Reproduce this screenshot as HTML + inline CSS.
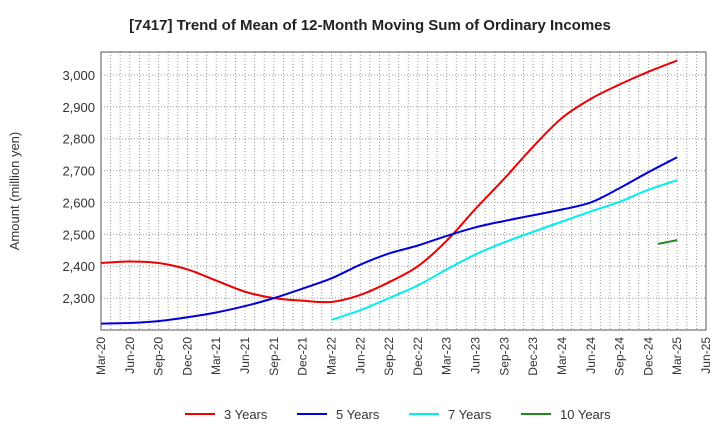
<!DOCTYPE html>
<html><head><meta charset="utf-8"><style>
body{margin:0;background:#fff;font-family:"Liberation Sans",sans-serif}
svg text{font-family:"Liberation Sans",sans-serif}
</style></head><body>
<svg id="c" width="720" height="440" xmlns="http://www.w3.org/2000/svg">
<text x="370" y="30" text-anchor="middle" font-size="15" font-weight="bold" fill="#222">[7417]  Trend of Mean of 12-Month Moving Sum of Ordinary Incomes</text>
<text transform="translate(19,191) rotate(-90)" text-anchor="middle" font-size="13" fill="#333">Amount (million yen)</text>
<g id="grid"></g><g id="series"></g><g id="axes"></g>
<g id="legend"></g>
</svg>
<script>
const xLabels=["Mar-20","Jun-20","Sep-20","Dec-20","Mar-21","Jun-21","Sep-21","Dec-21","Mar-22","Jun-22","Sep-22","Dec-22","Mar-23","Jun-23","Sep-23","Dec-23","Mar-24","Jun-24","Sep-24","Dec-24","Mar-25","Jun-25"];
const yTicks=[2300,2400,2500,2600,2700,2800,2900,3000];
const s3=[2410,2415,2410,2390,2355,2320,2300,2292,2288,2310,2350,2400,2480,2580,2675,2775,2865,2925,2970,3010,3045];
const s5=[2220,2222,2228,2240,2255,2275,2300,2330,2362,2405,2440,2465,2495,2522,2542,2560,2578,2600,2645,2695,2742];
const s7=[2232,2262,2300,2340,2390,2437,2475,2508,2540,2572,2602,2640,2670];
const s7Start=8;
const s10=[2470,2476,2482];
const s10StartMonth=58;
const L=101,R=706,T=52,B=330,YMIN=2200,YMAX=3072;
const xm=m=>L+m*(R-L)/63;
const y=v=>B-(v-YMIN)*(B-T)/(YMAX-YMIN);
const NS="http://www.w3.org/2000/svg";
function mk(t,a,p){const e=document.createElementNS(NS,t);for(const k in a)e.setAttribute(k,a[k]);p.appendChild(e);return e;}
const grid=document.getElementById('grid'),axes=document.getElementById('axes'),ser=document.getElementById('series'),leg=document.getElementById('legend');
for(let m=1;m<63;m++){const l=mk('line',{x1:xm(m),x2:xm(m),y1:T,y2:B,stroke:'#999','stroke-dasharray':'1,2','stroke-width':1},grid);

}
yTicks.forEach(v=>{const l=mk('line',{x1:L,x2:R,y1:y(v),y2:y(v),stroke:'#999','stroke-dasharray':'1,2'},grid);


const t=mk('text',{x:L-6,y:y(v)+5,'text-anchor':'end','font-size':'13',fill:'#333'},axes);t.textContent=v.toLocaleString('en-US');

});
const fr=mk('rect',{x:L,y:T,width:R-L,height:B-T,fill:'none',stroke:'#555'},axes);


xLabels.forEach((s,i)=>{const t=mk('text',{transform:`translate(${xm(i*3)+4},337) rotate(-90)`,'text-anchor':'end','font-size':'12',fill:'#333'},axes);t.textContent=s;

});
function path(pts){let d=`M${pts[0][0]},${pts[0][1]}`;for(let i=0;i<pts.length-1;i++){const p0=pts[i-1]||pts[i],p1=pts[i],p2=pts[i+1],p3=pts[i+2]||p2;
d+=` C${p1[0]+(p2[0]-p0[0])/6},${p1[1]+(p2[1]-p0[1])/6} ${p2[0]-(p3[0]-p1[0])/6},${p2[1]-(p3[1]-p1[1])/6} ${p2[0]},${p2[1]}`;}return d;}
function draw(vals,startMonth,step,color,name){const pts=vals.map((v,i)=>[xm(startMonth+i*step),y(v)]);
const p=mk('path',{d:path(pts),fill:'none',stroke:color,'stroke-width':2},ser);

}
draw(s3,0,3,'#ee0000','series-3-years');
draw(s5,0,3,'#0000dd','series-5-years');
draw(s7,s7Start*3,3,'#00eeee','series-7-years');
draw(s10,s10StartMonth,1,'#228822','series-10-years');
[["3 Years",'#ee0000',185],["5 Years",'#0000dd',297],["7 Years",'#00eeee',409],["10 Years",'#228822',521]].forEach(([n,c,x])=>{
const g=mk('g',{},leg);


mk('line',{x1:x,x2:x+30,y1:414,y2:414,stroke:c,'stroke-width':2},g);
const t=mk('text',{x:x+39,y:419,'font-size':'13',fill:'#333'},g);t.textContent=n;});
</script>
</body></html>
